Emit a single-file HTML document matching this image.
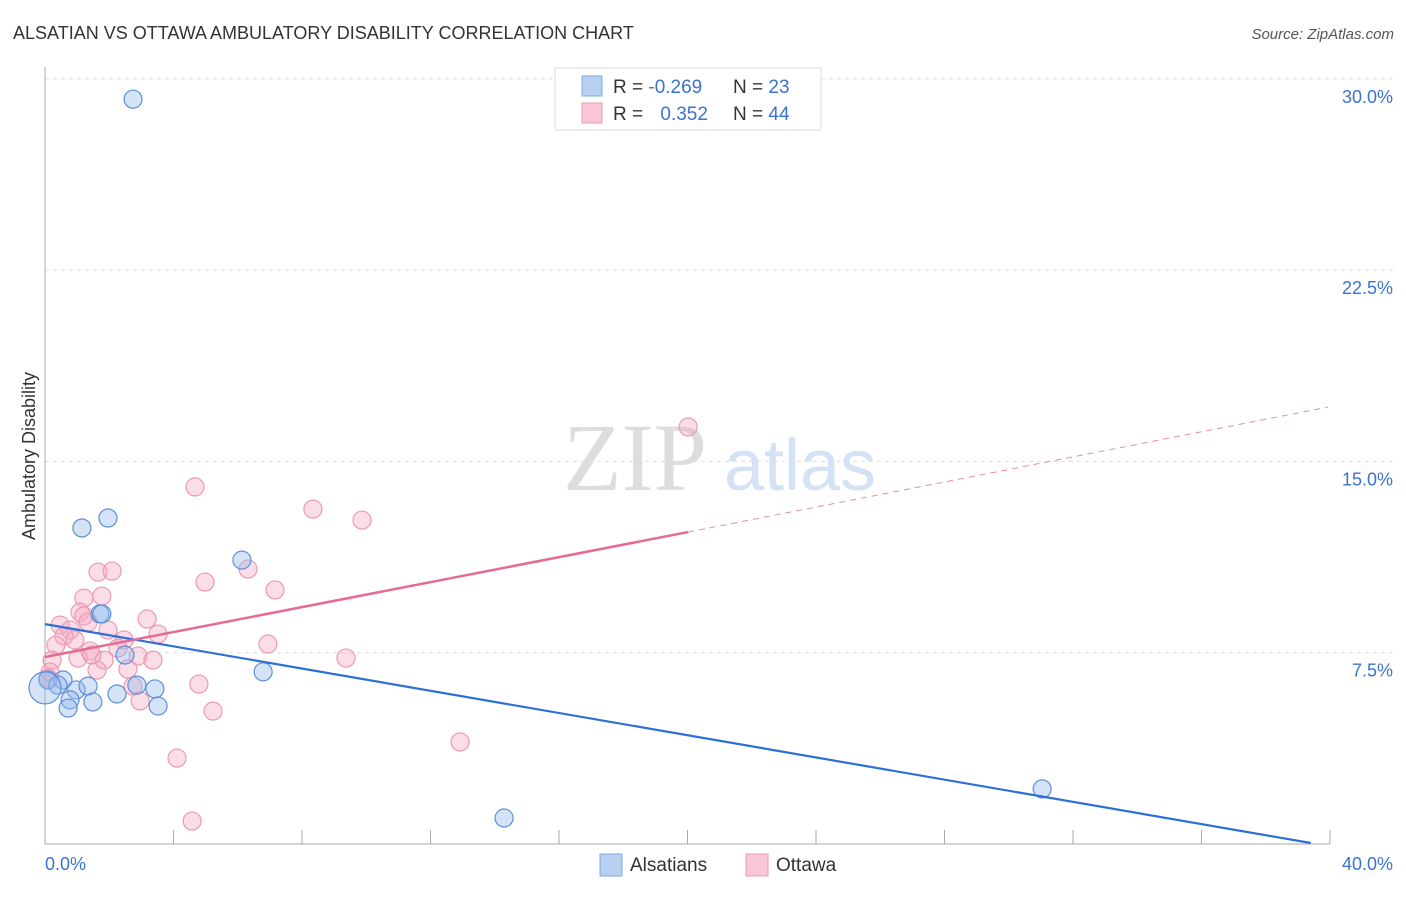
<!DOCTYPE html>
<html><head><meta charset="utf-8"><style>
body{margin:0;background:#fff;font-family:"Liberation Sans",sans-serif;}
#wrap{position:relative;width:1406px;height:892px;}
</style></head><body>
<div id="wrap">
<svg id="svg" width="1406" height="892" xmlns="http://www.w3.org/2000/svg">
<text x="13" y="39" font-size="18" fill="#333">ALSATIAN VS OTTAWA AMBULATORY DISABILITY CORRELATION CHART</text>
<text x="1394" y="39" font-size="15" fill="#555" text-anchor="end" font-style="italic">Source: ZipAtlas.com</text>
<text x="35" y="456" font-size="18" fill="#333" text-anchor="middle" transform="rotate(-90 35 456)">Ambulatory Disability</text>
<g>
<text x="635" y="490" font-size="96" fill="#ddd" font-family="Liberation Serif" text-anchor="middle">ZIP</text>
<text x="800" y="490" font-size="72" fill="#d4e2f6" text-anchor="middle">atlas</text>
</g>
<g id="grid"></g><g id="axes"></g><g id="marks"></g>
<g>
<rect x="555" y="68" width="266" height="62" fill="#fff" stroke="#ddd"/>
<rect x="582" y="76" width="20" height="20" fill="#b8d1f3" stroke="#7ea8e3"/>
<rect x="582" y="103" width="20" height="20" fill="#f9c6d5" stroke="#ec9ab3"/>
<text x="613" y="93" font-size="19" fill="#333">R = <tspan fill="#3b73d0">-0.269</tspan></text>
<text x="733" y="93" font-size="19" fill="#333">N = <tspan fill="#3b73d0">23</tspan></text>
<text x="613" y="120" font-size="19" fill="#333">R = <tspan fill="#3b73d0" dx="12">0.352</tspan></text>
<text x="733" y="120" font-size="19" fill="#333">N = <tspan fill="#3b73d0">44</tspan></text>
</g>
<g>
<rect x="600" y="854" width="22" height="22" fill="#b8d1f3" stroke="#7ea8e3"/>
<text x="630" y="871" font-size="19" fill="#333">Alsatians</text>
<rect x="746" y="854" width="22" height="22" fill="#f9c6d5" stroke="#ec9ab3"/>
<text x="776" y="871" font-size="19" fill="#333">Ottawa</text>
</g>
</svg>
</div>
<script>
const yTicks=[7.5,15,22.5,30];
const yTickLabels=["7.5%","15.0%","22.5%","30.0%"];
const xTicks=[4,8,12,16,20,24,28,32,36,40];
const blueX=[2.74,1.15,1.96,6.13,1.71,2.49,6.79,0.09,0.56,0.40,0.97,1.34,0.78,0.72,1.49,2.24,2.86,3.42,3.52,31.04,14.29,1.77,0];
const blueY=[29.2,12.39,12.78,11.13,9.02,7.41,6.75,6.43,6.43,6.23,6.04,6.19,5.65,5.33,5.57,5.88,6.23,6.08,5.41,2.16,1.02,9.02,6.12];
const pinkX=[20.02,4.67,8.34,9.87,1.65,2.09,6.32,4.98,7.16,1.21,1.77,1.09,1.21,3.18,0.47,0.78,1.96,0.59,3.52,2.46,0.34,1.40,1.03,1.84,2.90,3.36,6.94,9.37,0.22,1.62,2.58,0.16,0.09,2.74,4.79,2.96,5.23,12.92,4.11,4.58,1.46,0.93,2.27,1.34];
const pinkY=[16.35,14.0,13.13,12.70,10.66,10.70,10.78,10.27,9.96,9.64,9.72,9.09,8.94,8.82,8.58,8.39,8.39,8.15,8.23,8.00,7.80,7.57,7.29,7.21,7.37,7.21,7.84,7.29,7.21,6.82,6.86,6.74,6.51,6.19,6.27,5.61,5.21,4.00,3.37,0.90,7.41,8.00,7.68,8.70];
const blueTrend=[[0,8.62],[39.4,0.04]];
const pinkTrendSolid=[[0,7.33],[20.02,12.23]];
const pinkTrendDash=[[20.02,12.23],[39.94,17.13]];
const NS="http://www.w3.org/2000/svg";
const X=v=>45+v/40*1285, Y=v=>844-v/7.5*191.3;
function mk(tag,attrs,parent){const e=document.createElementNS(NS,tag);for(const k in attrs)e.setAttribute(k,attrs[k]);parent.appendChild(e);return e;}
const grid=document.getElementById('grid'),axes=document.getElementById('axes'),marks=document.getElementById('marks');
yTicks.forEach((t,i)=>{
 const l=mk('line',{x1:45,x2:1393,y1:Y(t),y2:Y(t),stroke:'#ddd','stroke-dasharray':'4 4'},grid);
 
 
 const tx=mk('text',{x:1393,y:Y(t)+24,'font-size':18,fill:'#3b73d0','text-anchor':'end'},axes);
 tx.textContent=yTickLabels[i];
 
 
});
mk('line',{x1:45,x2:45,y1:67,y2:844,stroke:'#aaa'},axes);
mk('line',{x1:45,x2:1330,y1:844,y2:844,stroke:'#aaa'},axes);
xTicks.forEach(t=>{
 const l=mk('line',{x1:X(t),x2:X(t),y1:830,y2:844,stroke:'#aaa'},axes);
 
 
});
const x0=mk('text',{x:45,y:870,'font-size':18,fill:'#3b73d0'},axes);x0.textContent='0.0%';


const x1=mk('text',{x:1393,y:870,'font-size':18,fill:'#3b73d0','text-anchor':'end'},axes);x1.textContent='40.0%';


pinkX.forEach((v,i)=>{
 const c=mk('circle',{cx:X(v),cy:Y(pinkY[i]),r:9,fill:'rgba(244,170,195,0.4)',stroke:'#eb9ab3','stroke-width':1.2},marks);
 
 
});
blueX.forEach((v,i)=>{
 const c=mk('circle',{cx:X(v),cy:Y(blueY[i]),r:i==blueX.length-1?16:9,fill:'rgba(150,185,235,0.4)',stroke:'#5d8fda','stroke-width':1.2},marks);
 
 
});
function line(p,col,dash,w,name){
 const l=mk('line',{x1:X(p[0][0]),y1:Y(p[0][1]),x2:X(p[1][0]),y2:Y(p[1][1]),stroke:col,'stroke-width':w},marks);
 if(dash)l.setAttribute('stroke-dasharray',dash);
 
 
}
line(blueTrend,'#2c6fd6',null,2.2,'alsatians-trend-line');
line(pinkTrendSolid,'#e66a95',null,2.5,'ottawa-trend-line');
line(pinkTrendDash,'#e88aa8','6 5',1,'ottawa-trend-extension');
</script>
</body></html>
